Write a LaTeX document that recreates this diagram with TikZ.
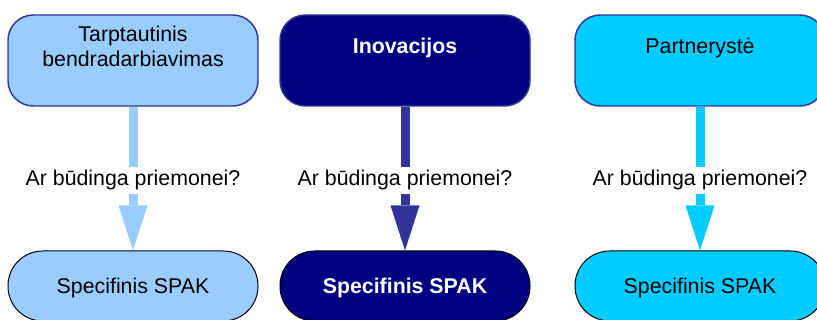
\documentclass[tikz,border=0pt]{standalone}
\usepackage{fontspec}
\setmainfont{Liberation Sans}
\usetikzlibrary{arrows.meta}
\definecolor{cA}{HTML}{99CCFF}
\definecolor{cB}{HTML}{000080}
\definecolor{cC}{HTML}{00CCFF}
\definecolor{cBorder}{HTML}{333399}
\tikzset{
  topbox/.style={draw=cBorder, line width=1.1pt, rounded corners=19pt,
    minimum width=187.5pt, minimum height=68.25pt, inner sep=0pt},
  botbox/.style={draw=black, line width=0.75pt, rounded corners=26pt,
    minimum width=187.5pt, minimum height=52.5pt, inner sep=0pt},
  txt/.style={font=\fontsize{16}{18.75}\selectfont, align=center, inner sep=0pt},
  lbl/.style={txt, fill=white, inner xsep=1pt, inner ysep=2.5pt},
  conn/.style={line width=6.75pt,
    -{Triangle[width=21.75pt,length=33.75pt,line width=0pt]}}
}
\begin{document}
\begin{tikzpicture}[x=0.75pt,y=-0.75pt]
\useasboundingbox (0,0) rectangle (817,320);
\clip (0,0) rectangle (817,320);
% top boxes
\node[topbox, fill=cA] (t1) at (133,60.5) {};
\node[topbox, fill=cB] (t2) at (405,60.5) {};
\node[topbox, fill=cC] (t3) at (700,60.5) {};
% bottom boxes
\node[botbox, fill=cA] (b1) at (133,286) {};
\node[botbox, fill=cB] (b2) at (405,286) {};
\node[botbox, fill=cC] (b3) at (700,286) {};
% connectors
\draw[conn, cA] (t1) -- (b1);
\draw[conn, cBorder] (t2) -- (b2);
\draw[conn, cC] (t3) -- (b3);
% top texts
\node[txt] (t1text) at (133,46.8) {Tarptautinis\\bendradarbiavimas};
\node[txt, anchor=base, text=white, font=\fontsize{16}{18.75}\selectfont\bfseries] (t2text) at (405,54) {Inovacijos};
\node[txt, anchor=base] (t3text) at (700,54) {Partnerystė};
% labels
\node[lbl, anchor=base] (q1) at (133,186) {Ar būdinga priemonei?};
\node[lbl, anchor=base] (q2) at (405,186) {Ar būdinga priemonei?};
\node[lbl, anchor=base] (q3) at (700,186) {Ar būdinga priemonei?};
% bottom texts
\node[txt, anchor=base] (b1text) at (133,293) {Specifinis SPAK};
\node[txt, anchor=base, text=white, font=\fontsize{16}{18.75}\selectfont\bfseries] (b2text) at (405,293) {Specifinis SPAK};
\node[txt, anchor=base] (b3text) at (700,293) {Specifinis SPAK};
\end{tikzpicture}
\end{document}
